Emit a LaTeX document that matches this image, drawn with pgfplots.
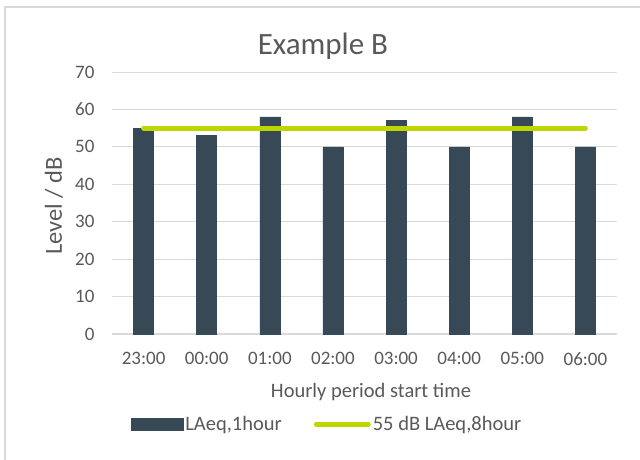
\documentclass[border=0pt]{standalone}
\usepackage{pgfplots}
\pgfplotsset{compat=1.18}
\usepackage{fontspec}
\setmainfont{Carlito}
\definecolor{barc}{HTML}{374856}
\definecolor{limc}{HTML}{BED600}
\definecolor{gridc}{HTML}{D9D9D9}
\definecolor{txt}{HTML}{595959}
\begin{document}
\begin{tikzpicture}[x=1pt,y=1pt]
\begin{axis}[
  scale only axis, width=505pt, height=262pt,
  xmin=-0.5, xmax=7.5, ymin=0, ymax=70,
  ytick={0,10,...,70},
  xtick={0,...,7},
  xticklabels={23:00,00:00,01:00,02:00,03:00,04:00,05:00,06:00},
  major tick length=0pt,
  axis y line*=left, axis x line*=bottom,
  y axis line style={draw=none},
  x axis line style={gridc, line width=1.2pt},
  ymajorgrids, grid style={gridc, line width=1pt},
  tick label style={txt, font=\fontsize{19}{22}\selectfont},
  /pgf/number format/assume math mode=true,
  yticklabel style={xshift=-14pt},
  xticklabel style={yshift=-15pt},
  legend columns=2,
  legend style={at={(0.426,-0.344)}, anchor=center, draw=none, fill=none,
    font=\fontsize{20.5}{24}\selectfont, text=txt,
    /tikz/every even column/.append style={column sep=30pt}},
  legend cell align=left,
]
\addplot[ybar, bar width=20pt, bar shift=0pt, fill=barc, draw=barc,
  legend image code/.code={\fill[barc] (0pt,-6pt) rectangle (52pt,6pt);}]
  coordinates {(0,55) (1,53) (2,58) (3,50) (4,57) (5,50) (6,58) (7,50)};
\addlegendentry{LAeq,1hour}
\addplot[limc, line width=5pt, line cap=round,
  legend image code/.code={\draw[limc, line width=5pt, line cap=round] (2pt,0pt) -- (54pt,0pt);}]
  coordinates {(0,55) (7,55)};
\addlegendentry{55 dB LAeq,8hour}
\path (rel axis cs:0,0) coordinate (O);
\end{axis}
\pgfresetboundingbox
\begin{scope}[shift={(O)}, xshift=-112pt, yshift=-125pt]
\path[use as bounding box] (0,0) rectangle (640,459);
\draw[gridc, line width=1.5pt] (5,-2) -- (5,452) -- (642,452);
\node[txt, font=\fontsize{31}{36}\selectfont] at (323,413) {Example B};
\node[txt, rotate=90, font=\fontsize{24.5}{28}\selectfont] at (54,253) {Level / dB};
\node[txt, font=\fontsize{20.5}{24}\selectfont] at (371,67) {Hourly period start time};
\end{scope}
\end{tikzpicture}
\end{document}
